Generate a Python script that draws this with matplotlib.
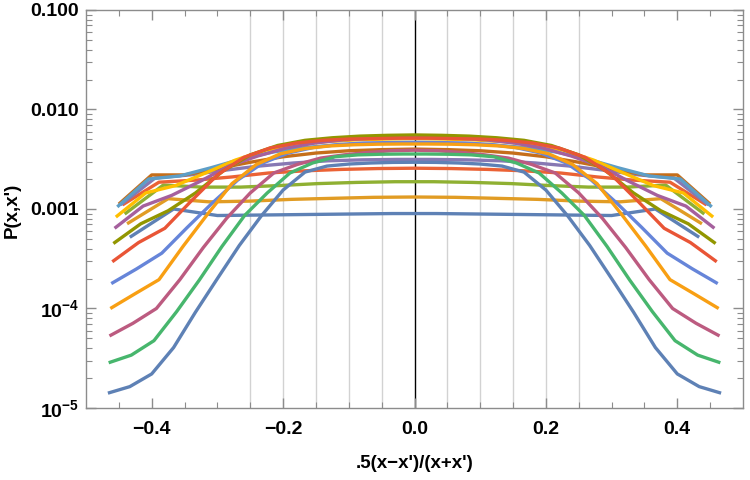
import matplotlib
matplotlib.use('Agg')
import matplotlib.pyplot as plt
import numpy as np
from matplotlib import font_manager
from matplotlib.ticker import FixedLocator, FixedFormatter, NullFormatter

# pick a sans family that really has a bold face
cands = ['Liberation Sans', 'Arimo', 'Roboto', 'Noto Sans', 'Open Sans', 'Lato', 'DejaVu Sans']
fam = 'DejaVu Sans'
for c in cands:
    if any(f.name == c and (f.weight in ('bold', 700) or str(f.weight) == '700') for f in font_manager.fontManager.ttflist):
        fam = c
        break
bold_file = None
for f in font_manager.fontManager.ttflist:
    if f.name == fam and (f.weight in ('bold', 700) or str(f.weight) == '700') and f.style == 'normal':
        bold_file = f.fname
        break

plt.rcParams['font.family'] = [fam, 'DejaVu Sans']
plt.rcParams['mathtext.fontset'] = 'custom'
plt.rcParams['mathtext.rm'] = fam
plt.rcParams['mathtext.bf'] = fam + ':bold'
plt.rcParams['mathtext.it'] = fam + ':italic'

# x + x' for each curve (curve i has points x = 1 .. N-1, x' = N - x)
sums = [15, 16, 17, 18, 19, 20, 21, 22, 23, 24, 25, 26, 27, 28, 29, 30]

# left half of each (symmetric) curve, x = 1 .. centre
p15 = [5.2e-4, 1.0e-3, 8.6e-4, 8.7e-4, 8.8e-4, 8.9e-4, 9.0e-4]
p16 = [7.1e-4, 1.27e-3, 1.18e-3, 1.2e-3, 1.25e-3, 1.28e-3, 1.31e-3, 1.32e-3]
p17 = [8.9e-4, 1.74e-3, 1.66e-3, 1.66e-3, 1.72e-3, 1.8e-3, 1.85e-3, 1.88e-3]
p18 = [1.1e-3, 1.86e-3, 1.95e-3, 2.1e-3, 2.3e-3, 2.42e-3, 2.5e-3, 2.55e-3, 2.57e-3]
p19 = [1.1e-3, 2.05e-3, 2.2e-3, 2.45e-3, 2.7e-3, 2.9e-3, 3.05e-3, 3.12e-3, 3.15e-3]
p20 = [1.12e-3, 2.2e-3, 2.2e-3, 2.55e-3, 2.95e-3, 3.35e-3, 3.65e-3, 3.85e-3, 3.95e-3, 4.0e-3]
p21 = [1.05e-3, 2.0e-3, 2.15e-3, 2.6e-3, 3.2e-3, 3.75e-3, 4.15e-3, 4.4e-3, 4.55e-3, 4.6e-3]
p22 = [8.3e-4, 1.45e-3, 1.72e-3, 2.3e-3, 3.1e-3, 3.9e-3, 4.4e-3, 4.75e-3, 4.95e-3, 5.05e-3, 5.1e-3]
p23 = [6.4e-4, 1.07e-3, 1.37e-3, 1.9e-3, 2.7e-3, 3.4e-3, 4.1e-3, 4.6e-3, 4.95e-3, 5.15e-3, 5.25e-3]
p24 = [4.5e-4, 7.1e-4, 9.6e-4, 1.45e-3, 2.4e-3, 3.5e-3, 4.35e-3, 4.9e-3, 5.2e-3, 5.4e-3, 5.5e-3, 5.55e-3]
p25 = [2.95e-4, 4.6e-4, 6.4e-4, 1.2e-3, 2.2e-3, 3.3e-3, 4.1e-3, 4.6e-3, 4.9e-3, 5.05e-3, 5.1e-3, 5.15e-3]
p26 = [1.78e-4, 2.5e-4, 3.6e-4, 6.5e-4, 1.15e-3, 1.95e-3, 2.9e-3, 3.65e-3, 4.15e-3, 4.45e-3, 4.6e-3, 4.65e-3, 4.68e-3]
p27 = [1.0e-4, 1.4e-4, 1.95e-4, 4.25e-4, 8.9e-4, 1.8e-3, 2.8e-3, 3.6e-3, 4.05e-3, 4.3e-3, 4.42e-3, 4.48e-3, 4.5e-3]
p28 = [5.3e-5, 7.1e-5, 1.0e-4, 1.95e-4, 4.1e-4, 8.1e-4, 1.45e-3, 2.3e-3, 2.8e-3, 3.25e-3, 3.5e-3, 3.7e-3, 3.85e-3, 3.9e-3]
p29 = [2.85e-5, 3.4e-5, 4.75e-5, 9.3e-5, 1.93e-4, 4.2e-4, 8.6e-4, 1.45e-3, 2.3e-3, 2.9e-3, 3.35e-3, 3.5e-3, 3.55e-3, 3.57e-3]
p30 = [1.41e-5, 1.64e-5, 2.2e-5, 4.05e-5, 9.2e-5, 2.0e-4, 4.3e-4, 8.5e-4, 1.55e-3, 2.35e-3, 2.7e-3, 2.83e-3, 2.9e-3, 2.94e-3, 2.95e-3]

half_profiles = [p15, p16, p17, p18, p19, p20, p21, p22, p23, p24, p25, p26, p27, p28, p29, p30]

colors = ['#5E81B5', '#E19C24', '#8FB032', '#EB6235', '#8778B3', '#C56E1A',
          '#5D9EC7', '#FFBF00', '#A5609D', '#929600', '#E95536', '#6685D9',
          '#F89F13', '#BC5B80', '#47B66D', '#5E81B5']

xticks = [-0.4, -0.2, 0.0, 0.2, 0.4]
xtick_labels = ['\u22120.4', '\u22120.2', '0.0', '0.2', '0.4']
yticks = [1e-5, 1e-4, 1e-3, 1e-2, 1e-1]
ytick_labels = [r'$\mathbf{10^{-5}}$', r'$\mathbf{10^{-4}}$', '0.001', '0.010', '0.100']
grid_x = [-0.25, -0.2, -0.15, -0.1, -0.05, 0.05, 0.1, 0.15, 0.2, 0.25]

if bold_file:
    bfp = font_manager.FontProperties(fname=bold_file, size=14)
    afp = font_manager.FontProperties(fname=bold_file, size=13.5)
else:
    bfp = font_manager.FontProperties(family=fam, weight='bold', size=14)
    afp = font_manager.FontProperties(family=fam, weight='bold', size=13.5)

fig = plt.figure(figsize=(7.5, 4.8), dpi=100)
ax = fig.add_axes([86/750, 1 - 408/480, 657/750, 398/480])

for gx in grid_x:
    ax.axvline(gx, color='#D2D2D2', lw=1.0, zorder=0)
ax.axvline(0.0, color='black', lw=1.0, zorder=0.5)

for N, half, c in zip(sums, half_profiles, colors):
    k = np.arange(1, N)
    kp = N - k
    x = 0.5 * (k - kp) / (k + kp)
    if (N - 1) % 2 == 1:
        full = half + half[-2::-1]
    else:
        full = half + half[::-1]
    ax.plot(x, full, color=c, lw=2.4, solid_joinstyle='round',
            solid_capstyle='butt', zorder=2)

ax.set_yscale('log')
ax.set_xlim(-0.5, 0.5)
ax.set_ylim(1e-5, 0.1)

ax.xaxis.set_major_locator(FixedLocator(xticks))
ax.xaxis.set_major_formatter(FixedFormatter(xtick_labels))
ax.xaxis.set_minor_locator(FixedLocator([v for v in np.arange(-0.45, 0.5, 0.05) if abs(round(v / 0.2) * 0.2 - v) > 1e-6]))
ax.yaxis.set_major_locator(FixedLocator(yticks))
ax.yaxis.set_major_formatter(FixedFormatter(ytick_labels))
minor_y = [m * 10.0 ** e for e in range(-5, -1) for m in range(2, 10)]
ax.yaxis.set_minor_locator(FixedLocator(minor_y))
ax.yaxis.set_minor_formatter(NullFormatter())

for s in ax.spines.values():
    s.set_color('#8C8C8C')
    s.set_linewidth(1.0)

ax.tick_params(which='both', direction='in', top=True, right=True, color='#8C8C8C')
ax.tick_params(which='major', length=7, width=1.0)
ax.tick_params(which='minor', length=4, width=0.8)
ax.tick_params(axis='x', which='major', pad=9)
ax.tick_params(axis='y', which='major', pad=5)
for lab in ax.get_xticklabels() + ax.get_yticklabels():
    lab.set_fontproperties(bfp)

fig.text(415/750, 1 - 463/480, ".5(x\u2212x')/(x+x')", ha='center', va='center',
         fontproperties=afp)
fig.text(12/750, 1 - 210/480, "P(x,x')", ha='center', va='center', rotation=90,
         fontproperties=afp)

fig.savefig('out.png', dpi=100)
